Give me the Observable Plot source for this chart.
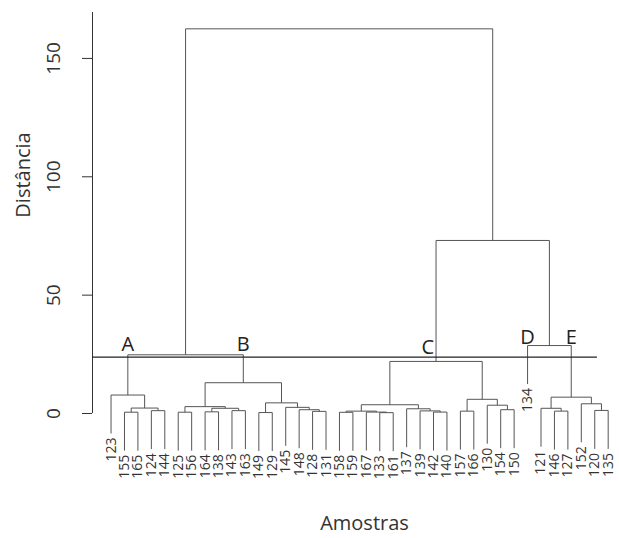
<!DOCTYPE html>
<html><head><meta charset="utf-8">
<script src="https://cdn.jsdelivr.net/npm/d3@7"></script>
<script src="https://cdn.jsdelivr.net/npm/@observablehq/plot@0.6"></script>
<style>body{margin:0;background:#fff} svg{display:block}</style>
</head><body><div id="chart"></div>
<script>
// Leaf order (left to right)
const leaves = ["123","155","165","124","144","125","156","164","138","143","163","149","129","145","148","128","131",
  "158","159","167","133","161","137","139","142","140","157","166","130","154","150",
  "134","121","146","127","152","120","135"];

// Merges: [id, child1, child2, height]
const merges = [
  ["a1","155","165",0.55],
  ["a2","124","144",1.2],
  ["a3","a1","a2",2.3],
  ["A","123","a3",7.8],
  ["b1","125","156",0.55],
  ["b2","164","138",0.7],
  ["b3","143","163",1.2],
  ["b4","b2","b3",2.2],
  ["B1","b1","b4",2.9],
  ["b5","149","129",0.4],
  ["b6","128","131",0.9],
  ["b7","148","b6",1.6],
  ["b8","145","b7",2.6],
  ["B2","b5","b8",4.5],
  ["B","B1","B2",13.0],
  ["AB","A","B",24.8],
  ["c1","158","159",0.5],
  ["c2","133","161",0.35],
  ["c3","167","c2",0.6],
  ["c4","c1","c3",1.0],
  ["c5","142","140",0.6],
  ["c6","139","c5",1.1],
  ["c7","137","c6",2.0],
  ["C1","c4","c7",3.7],
  ["c8","157","166",1.0],
  ["c9","154","150",1.6],
  ["c10","130","c9",3.5],
  ["C2","c8","c10",6.0],
  ["C","C1","C2",22.0],
  ["e1","146","127",1.0],
  ["e2","121","e1",2.2],
  ["e3","120","135",1.3],
  ["e4","152","e3",4.1],
  ["E","e2","e4",6.9],
  ["DE","134","E",28.7],
  ["CDE","C","DE",73.1],
  ["root","AB","CDE",162.5]
];

const yTicks = [0, 50, 100, 150];
const cutHeight = 23.8;
const groupNames = ["A","B","C","D","E"];
const groupNodes = ["A","B","C","134","E"];
const groupHeights = [29, 29, 28, 32, 32];
const xTitle = "Amostras";
const yTitle = "Distância";

// Build dendrogram geometry (R hclust style, hang = 0.1 * max height)
const pos = new Map();
leaves.forEach((l, i) => pos.set(l, {label: l, x: i, h: 0, leaf: true}));
const rootH = d3.max(merges, m => m[3]);
const hang = 0.1 * rootH;
const segs = [];
const leafNodes = [];
for (const [id, a, b, h] of merges) {
  const A = pos.get(a), B = pos.get(b);
  for (const c of [A, B]) {
    const bottom = c.leaf ? h - hang : c.h;
    segs.push({x1: c.x, y1: h, x2: c.x, y2: bottom});
    if (c.leaf) leafNodes.push({label: c.label, x: c.x, y: bottom});
  }
  segs.push({x1: A.x, y1: h, x2: B.x, y2: h});
  pos.set(id, {x: (A.x + B.x) / 2, h, leaf: false});
}
const groups = groupNames.map((g, i) => ({name: g, x: pos.get(groupNodes[i]).x, y: groupHeights[i]}));

const W = 619, H = 538, ML = 92, MR = 5, MT = 12, MB = 125;
const xDomain = [-1.38, 37.47];
const yDomain = [0, 169.4];
const cutEnd = 36.2;
const tickLen = 10;
const pxPerX = (W - ML - MR) / (xDomain[1] - xDomain[0]);
const tickX2 = xDomain[0] - tickLen / pxPerX;

const chart = Plot.plot({
  width: W, height: H,
  marginLeft: ML, marginRight: MR, marginTop: MT, marginBottom: MB,
  x: {domain: xDomain, axis: null},
  y: {domain: yDomain, axis: null},
  style: {fontFamily: "'Open Sans', sans-serif", background: "white", color: "#222"},
  marks: [
    Plot.ruleX([xDomain[0]], {y1: yDomain[0], y2: yDomain[1], stroke: "#333"}),
    Plot.ruleY(yTicks, {x1: xDomain[0], x2: tickX2, stroke: "#333"}),
    Plot.text(yTicks, {frameAnchor: "left", y: d => d, text: d => String(d), rotate: -90, dx: -39,
      textAnchor: "middle", lineAnchor: "middle", fontSize: 19, fill: "#333"}),
    Plot.link(segs, {x1: "x1", y1: "y1", x2: "x2", y2: "y2", stroke: "#555", strokeWidth: 1}),
    Plot.ruleY([cutHeight], {x1: xDomain[0], x2: cutEnd, stroke: "#222", strokeWidth: 1.4}),
    Plot.text(leafNodes, {x: "x", y: "y", text: "label", rotate: -90, textAnchor: "end", lineAnchor: "middle",
      dy: 4, fontSize: 14, fill: "#333"}),
    Plot.text(groups.filter(g => g.name !== "C"), {x: "x", y: "y", text: "name", fontSize: 20, lineAnchor: "middle", fill: "#222"}),
    Plot.text(groups.filter(g => g.name === "C"), {x: "x", y: "y", text: "name", fontSize: 20, textAnchor: "end", dx: -2, lineAnchor: "middle", fill: "#222"}),
    Plot.text([yTitle], {frameAnchor: "left", text: d => d, rotate: -90, dx: -69, dy: -38, fontSize: 20,
      textAnchor: "middle", lineAnchor: "middle", fill: "#333"}),
    Plot.text([xTitle], {frameAnchor: "bottom", text: d => d, dx: 11, dy: 110, fontSize: 20,
      textAnchor: "middle", lineAnchor: "middle", fill: "#333"})
  ]
});
document.getElementById("chart").append(chart);
</script>
</body></html>
